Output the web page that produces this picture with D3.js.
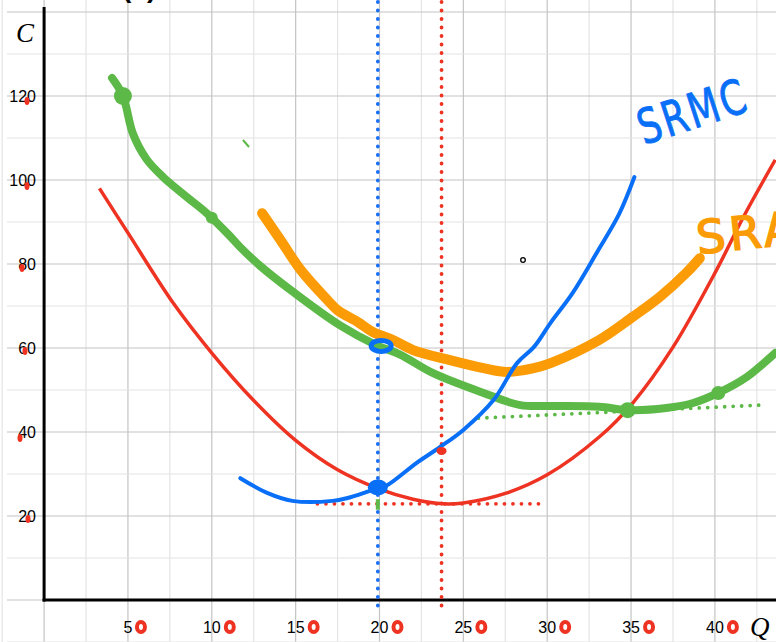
<!DOCTYPE html>
<html><head><meta charset="utf-8">
<script src="https://cdn.jsdelivr.net/npm/d3@7"></script>
<style>body{margin:0;background:#fff}svg{display:block}</style>
</head><body>
<svg id="c" width="776" height="642"></svg>
<script>
// ---- data ----
const xTicks = [5,10,15,20,25,30,35,40];
const yTicks = [20,40,60,80,100,120];
const redQ = [3.3,5,7.7,10,12.5,15,17.5,20,22,23.8,25,27.6,30,33.1,35.1,37.5,40.1,41.7,43.6];
const redC = [98,87.4,70.7,58.8,47.5,38,31,26.4,24,22.9,23.1,25.5,29.8,38.8,46.9,60.2,78.6,91.2,104.8];
const greenQ = [4.05,4.7,5.3,6.1,7.1,8.5,9.7,11,11.7,12.9,14.8,17.6,19.8,21.2,23.2,26.2,28.4,30.2,33.1,34.9,37.1,38.7,40.2,41.9,43.6];
const greenC = [124.3,120,111,105,100.7,96,92.1,87,84,79.5,73.5,65.5,60.7,58.5,54,49.3,46.4,46.2,46,45.2,45.7,46.9,49.3,53.1,58.8];
const orangeQ = [13,14.1,15.3,16.9,17.5,18.7,19.6,20.8,22,24.2,26.2,27.6,29.2,30.2,33.1,35.1,36.7,38.3,39.1];
const orangeC = [92.1,85.7,78.6,71.4,69,66.2,63.8,61.9,59.5,57.1,55.2,54.3,55.2,56.4,61.9,67.4,72.1,77.9,81.4];
const blueQ = [11.7,13.3,14.8,17.2,18.1,19.2,19.9,20.4,22.2,23.6,25,26.8,28.2,29.2,30.2,31.5,33,34.3,35.2];
const blueC = [29,25.5,23.6,23.6,24.3,25.7,26.7,27.2,32.6,36.4,40.5,47.6,56.4,60.2,66,73,83,92,100.7];
const greenDots = [[4.7,120,9],[10,91,6],[34.8,45.2,8],[40.2,49.3,7]];
const greenDottedQ = [25.9,42.7], greenDottedC = [43.3,46.4];
const minC = 22.9, minQlo = 16.3, minQhi = 29.6;
const qMR = 23.7, qBlue = 19.9;

const svg = d3.select("#c");
const x = d3.scaleLinear().domain([0,40]).range([44.1,714.9]);
const y = d3.scaleLinear().domain([0,120]).range([600,96]);

// grid
const g = svg.append("g");
for (let q=-2.5; q<=47.5; q+=2.5){
  const major = Math.abs(q%5)<1e-9;
  g.append("line").attr("x1",x(q)).attr("x2",x(q)).attr("y1",0).attr("y2",642)
   .attr("stroke",major?"#c4c4c4":"#e4e4e4").attr("stroke-width",1.2);
}
for (let c=-10; c<=150; c+=10){
  const major = c%20===0;
  g.append("line").attr("x1",7).attr("x2",776).attr("y1",y(c)).attr("y2",y(c))
   .attr("stroke",major?"#c4c4c4":"#e4e4e4").attr("stroke-width",1.2);
}
// axes
svg.append("line").attr("x1",x(0)).attr("x2",x(0)).attr("y1",7).attr("y2",y(0)+1.5).attr("stroke","#000").attr("stroke-width",3);
svg.append("line").attr("x1",x(0)-1.5).attr("x2",776).attr("y1",y(0)).attr("y2",y(0)).attr("stroke","#000").attr("stroke-width",3);

// tick labels
svg.selectAll(".yl").data(yTicks).join("text").attr("x",36).attr("y",d=>y(d)+6)
  .attr("text-anchor","end").attr("font-family","Liberation Sans, Arial").attr("font-size",16).text(d=>d);
svg.selectAll(".xl").data(xTicks).join("text").attr("x",d=>x(d)).attr("y",633)
  .attr("text-anchor","middle").attr("font-family","Liberation Sans, Arial").attr("font-size",16).text(d=>d);
// red scribbles on labels
svg.selectAll(".yd").data(yTicks).join("ellipse")
  .attr("cx",(d,i)=>[28,20,25,22,27,27][i]).attr("cy",(d,i)=>y(d)+[3,6,3,4,6,5][i])
  .attr("rx",2.5).attr("ry",4).attr("fill","#ee3322");
svg.selectAll(".xd").data(xTicks).join("ellipse")
  .attr("cx",d=>x(d)+(d<10?13:18)).attr("cy",627).attr("rx",4).attr("ry",5)
  .attr("fill","none").attr("stroke","#ee3322").attr("stroke-width",4);

// axis titles
svg.append("text").attr("x",16).attr("y",42).attr("font-family","Liberation Serif, Times New Roman").attr("font-style","italic").attr("font-size",27).text("C");
svg.append("text").attr("x",750).attr("y",636).attr("font-family","Liberation Serif, Times New Roman").attr("font-style","italic").attr("font-size",27).text("Q");
svg.append("text").attr("x",122).attr("y",-3).attr("font-family","Liberation Sans").attr("font-size",28).attr("font-weight","bold").text("(c)");

const line = d3.line().curve(d3.curveCatmullRom.alpha(0.5));
const pts = (qs,cs)=>qs.map((q,i)=>[x(q),y(cs[i])]);

// dotted guide lines
const dotted = (sel,col,w,gap)=>sel.attr("stroke",col).attr("stroke-width",w).attr("stroke-dasharray","0 "+gap).attr("stroke-linecap","round");
dotted(svg.append("line").attr("x1",x(qBlue)).attr("x2",x(qBlue)).attr("y1",2).attr("y2",606),"#1a6ff5",3.8,8.5);
dotted(svg.append("line").attr("x1",x(qMR)).attr("x2",x(qMR)).attr("y1",2).attr("y2",606),"#ee3322",3.8,8.5);
dotted(svg.append("line").attr("x1",x(minQlo)).attr("x2",x(minQhi)).attr("y1",y(minC)).attr("y2",y(minC)),"#ee3322",3.8,8.5);
dotted(svg.append("path").attr("d",d3.line()(pts(greenDottedQ,greenDottedC))).attr("fill","none"),"#5cb947",3.8,8.5);

// curves
svg.append("path").attr("d",line(pts(redQ,redC))).attr("fill","none").attr("stroke","#ee3322").attr("stroke-width",3.5);
svg.append("path").attr("d",line(pts(greenQ,greenC))).attr("fill","none").attr("stroke","#5cb947").attr("stroke-width",8).attr("stroke-linecap","round").attr("stroke-linejoin","round");
svg.append("path").attr("d",line(pts(orangeQ,orangeC))).attr("fill","none").attr("stroke","#fb9b05").attr("stroke-width",10).attr("stroke-linecap","round").attr("stroke-linejoin","round");
svg.append("path").attr("d",line(pts(blueQ,blueC))).attr("fill","none").attr("stroke","#0a6ff7").attr("stroke-width",4).attr("stroke-linecap","round").attr("stroke-linejoin","round");

// green dots
svg.selectAll(".gd").data(greenDots).join("circle").attr("cx",d=>x(d[0])).attr("cy",d=>y(d[1])).attr("r",d=>d[2]).attr("fill","#5cb947");
// small green strokes
svg.append("line").attr("x1",243).attr("y1",140).attr("x2",249).attr("y2",147).attr("stroke","#5cb947").attr("stroke-width",2);
svg.append("line").attr("x1",x(qBlue)).attr("y1",y(24)).attr("x2",x(qBlue)).attr("y2",y(21.5)).attr("stroke","#5cb947").attr("stroke-width",4);
// blue dots
svg.append("ellipse").attr("cx",x(19.9)).attr("cy",y(26.8)).attr("rx",10).attr("ry",8).attr("fill","#0a6ff7");
svg.append("ellipse").attr("cx",x(20.1)).attr("cy",y(60.5)).attr("rx",10).attr("ry",5.5).attr("fill","none").attr("stroke","#0a6ff7").attr("stroke-width",5);
// red dot on MR line
svg.append("ellipse").attr("cx",x(qMR)).attr("cy",y(35.5)).attr("rx",5).attr("ry",4).attr("fill","#ee3322");
// small black circle
svg.append("circle").attr("cx",523).attr("cy",260).attr("r",2.3).attr("fill","none").attr("stroke","#000").attr("stroke-width",1.3);

// handwritten labels
svg.append("text").attr("transform","translate(644,145) rotate(-18) scale(0.85,1.15)")
  .attr("font-family","DejaVu Sans").attr("font-size",42).attr("fill","#0a6ff7").attr("stroke","#0a6ff7").attr("stroke-width",0.8)
  .attr("letter-spacing",3).text("SRMC");
svg.append("text").attr("transform","translate(698,254) rotate(-6)")
  .attr("font-family","DejaVu Sans").attr("font-size",46).attr("fill","#fb9b05").attr("stroke","#fb9b05").attr("stroke-width",1.5)
  .attr("letter-spacing",4).text("SRAC");
</script>
</body></html>
